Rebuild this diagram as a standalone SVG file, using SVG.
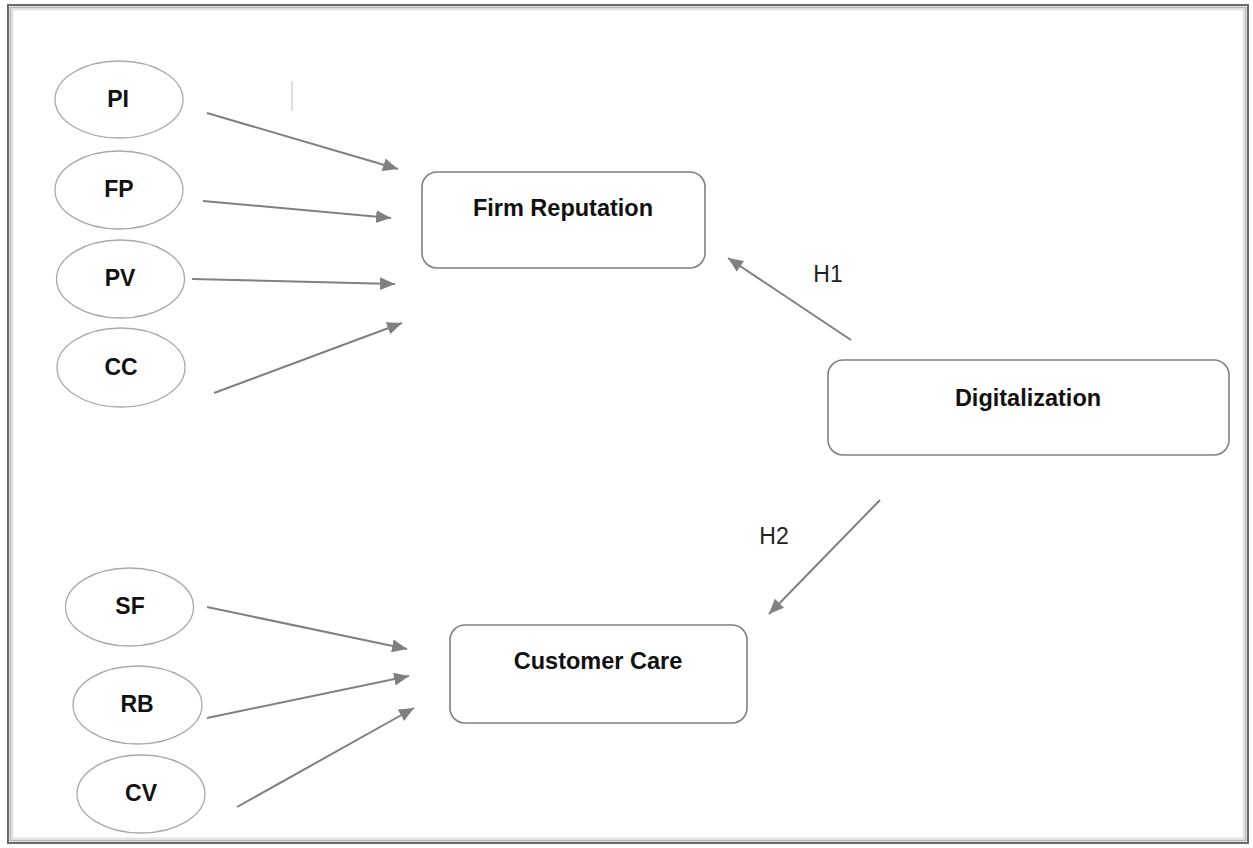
<svg xmlns="http://www.w3.org/2000/svg" width="1253" height="848" viewBox="0 0 1253 848">
<style>
.ell{fill:#fff;stroke:#a9a9a9;stroke-width:1.3}
.box{fill:#fff;stroke:#808080;stroke-width:1.6}
.lbl{font-family:"Liberation Sans",Arial,sans-serif;font-weight:bold;font-size:23px;fill:#111;text-anchor:middle}
.big{font-family:"Liberation Sans",Arial,sans-serif;font-weight:bold;font-size:23.5px;fill:#111;text-anchor:middle}
.hyp{font-family:"Liberation Sans",Arial,sans-serif;font-size:23px;fill:#222;text-anchor:middle}
.arr{stroke:#808080;stroke-width:2;fill:none;marker-end:url(#ah)}
</style>
<defs>
<marker id="ah" markerUnits="userSpaceOnUse" markerWidth="16" markerHeight="14" refX="15" refY="7" orient="auto">
<path d="M0,0.5 L15,7 L0,13.5 Z" fill="#808080"/>
</marker>
</defs>
<rect x="0" y="0" width="1253" height="848" fill="#fff"/>
<g id="frame" fill="none">
<rect x="8" y="5" width="1240" height="838" stroke="#6a6a6a" stroke-width="2"/>
<rect x="10.5" y="7.5" width="1235" height="833" stroke="#b8b8b8" stroke-width="2"/>
<rect x="12.5" y="9.5" width="1231" height="829" stroke="#e4e4e4" stroke-width="2"/>
</g>
<line x1="292" y1="81" x2="292" y2="111" stroke="#c8c8c8" stroke-width="1.2"/>
<g id="connectors">
<line class="arr" x1="207" y1="113" x2="398" y2="169"/>
<line class="arr" x1="203" y1="201" x2="391" y2="218"/>
<line class="arr" x1="192" y1="279" x2="395" y2="284"/>
<line class="arr" x1="214" y1="393" x2="402" y2="323"/>
<line class="arr" x1="851" y1="340" x2="728" y2="258"/>
<line class="arr" x1="880" y1="500" x2="769" y2="614"/>
<line class="arr" x1="207" y1="607" x2="407" y2="649"/>
<line class="arr" x1="207" y1="718" x2="409" y2="676"/>
<line class="arr" x1="237" y1="807" x2="414" y2="708"/>
<text class="hyp" x="828" y="282">H1</text>
<text class="hyp" x="774" y="544">H2</text>
</g>
<g id="PI"><ellipse class="ell" cx="119" cy="99.5" rx="64" ry="38.5"/><text class="lbl" x="118" y="107">PI</text></g>
<g id="FP"><ellipse class="ell" cx="119" cy="190" rx="64" ry="39"/><text class="lbl" x="119" y="197">FP</text></g>
<g id="PV"><ellipse class="ell" cx="120.5" cy="279" rx="64" ry="39"/><text class="lbl" x="120" y="286">PV</text></g>
<g id="CC"><ellipse class="ell" cx="121" cy="367.5" rx="64" ry="39.5"/><text class="lbl" x="121" y="375">CC</text></g>
<g id="SF"><ellipse class="ell" cx="129.5" cy="607" rx="64" ry="39"/><text class="lbl" x="130" y="614">SF</text></g>
<g id="RB"><ellipse class="ell" cx="137.5" cy="705" rx="64.5" ry="39"/><text class="lbl" x="137" y="712">RB</text></g>
<g id="CV"><ellipse class="ell" cx="141" cy="794" rx="64" ry="39"/><text class="lbl" x="141" y="801">CV</text></g>
<g id="firm-reputation"><rect class="box" x="422" y="172" width="283" height="96" rx="15"/><text class="big" x="563" y="216">Firm Reputation</text></g>
<g id="digitalization"><rect class="box" x="828" y="360" width="401" height="95" rx="15"/><text class="big" x="1028" y="406">Digitalization</text></g>
<g id="customer-care"><rect class="box" x="450" y="625" width="297" height="98" rx="15"/><text class="big" x="598" y="669">Customer Care</text></g>
</svg>
